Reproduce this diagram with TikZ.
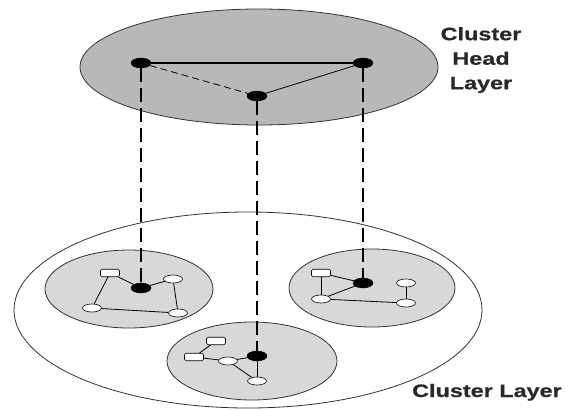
\documentclass[tikz,border=0pt]{standalone}
\usepackage{fontspec}
\newfontfamily\labfont[FakeStretch=1.3,FakeBold=0.6]{Liberation Sans}
\usetikzlibrary{shapes.geometric}
\definecolor{headgray}{RGB}{184,184,184}
\definecolor{clgray}{RGB}{216,216,216}
\definecolor{txtgray}{RGB}{40,40,40}
\tikzset{
  layerline/.style={draw=black!80, line width=0.8pt},
  bdot/.style={ellipse, fill=black, draw=black, minimum width=20pt, minimum height=10pt, inner sep=0pt},
  wdot/.style={ellipse, fill=white, draw=black, line width=0.6pt, minimum width=19pt, minimum height=8pt, inner sep=0pt},
  wbox/.style={rectangle, rounded corners=1.5pt, fill=white, draw=black, line width=0.6pt, minimum width=19pt, minimum height=7.5pt, inner sep=0pt},
  link/.style={draw=black, line width=0.8pt},
  vlink/.style={draw=black, line width=2.4pt, dash pattern=on 14pt off 6pt},
  labtext/.style={font=\labfont\bfseries\fontsize{18}{24.5}\selectfont, text=txtgray, inner sep=0pt}
}
\begin{document}
\begin{tikzpicture}[x=1pt,y=-1pt]
\useasboundingbox (0,0) rectangle (569,409);
% cluster layer
\filldraw[layerline, fill=white] (248,310) ellipse [x radius=234pt, y radius=98pt];
\filldraw[layerline, fill=clgray] (129,289) ellipse [x radius=84pt, y radius=39pt];
\filldraw[layerline, fill=clgray] (372,288) ellipse [x radius=83pt, y radius=39pt];
\filldraw[layerline, fill=clgray] (252,361) ellipse [x radius=85pt, y radius=39pt];
% head layer
\filldraw[layerline, fill=headgray] (259,67) ellipse [x radius=179pt, y radius=58pt];

% head nodes
\node[bdot] (h1) at (141,63) {};
\node[bdot] (h2) at (257,96) {};
\node[bdot] (h3) at (363,63) {};

% cluster 1
\node[bdot] (c1b) at (141,288) {};
\node[wbox] (c1r) at (110,273) {};
\node[wdot] (c1e1) at (173,279) {};
\node[wdot] (c1e2) at (92,308) {};
\node[wdot] (c1e3) at (178,313) {};
% cluster 2
\node[bdot] (c2b) at (363,283) {};
\node[wbox] (c2r) at (321,273) {};
\node[wdot] (c2e1) at (321,299) {};
\node[wdot] (c2e2) at (406,283) {};
\node[wdot] (c2e3) at (406,303) {};
% cluster 3
\node[bdot] (c3b) at (257,356) {};
\node[wbox] (c3r1) at (216,341) {};
\node[wbox] (c3r2) at (194,357) {};
\node[wdot] (c3e1) at (228,361) {};
\node[wdot] (c3e2) at (257,381) {};

% head links
\draw[link, line width=1.5pt] (h1) -- (h3);
\draw[link, dash pattern=on 7pt off 4pt] (h1) -- (h2);
\draw[link] (h2) -- (h3);

% vertical links
\draw[vlink] (h1) -- (c1b);
\draw[vlink] (h2) -- (c3b);
\draw[vlink] (h3) -- (c2b);

% cluster links
\draw[link] (c1r) -- (c1b);
\draw[link] (c1b) -- (c1e1);
\draw[link] (c1r) -- (c1e2);
\draw[link] (c1e2) -- (c1e3);
\draw[link] (c1e1) -- (c1e3);

\draw[link] (c2r) -- (c2b);
\draw[link] (c2r) -- (c2e1);
\draw[link] (c2e1) -- (c2b);
\draw[link] (c2e1) -- (c2e3);
\draw[link] (c2e2) -- (c2e3);

\draw[link] (c3r1) -- (c3r2);
\draw[link] (c3r2) -- (c3e1);
\draw[link] (c3e1) -- (c3b);
\draw[link] (c3e1) -- (c3e2);
\draw[link] (c3b) -- (c3e2);

% labels
\node[labtext, align=center, anchor=north] (hl) at (481,27) {Cluster\\Head\\Layer};
\node[labtext, anchor=base west] (cl) at (412,397) {Cluster Layer};
\end{tikzpicture}
\end{document}
